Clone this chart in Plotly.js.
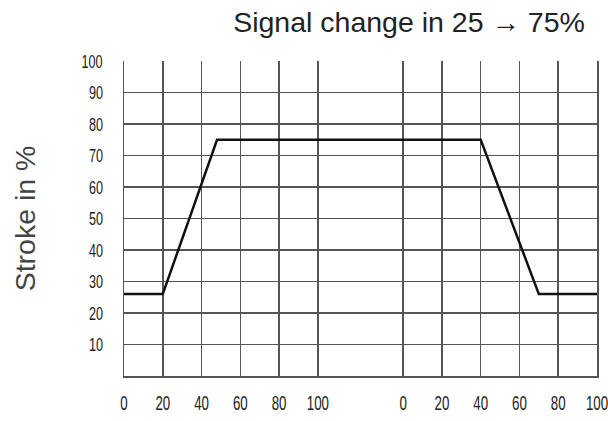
<!DOCTYPE html>
<html>
<head>
<meta charset="utf-8">
<script src="https://cdn.plot.ly/plotly-3.0.1.min.js"></script>
<style>html,body{margin:0;padding:0;background:#fff;}#chart{width:608px;height:421px;}</style>
</head>
<body>
<div id="chart"></div>
<script>
// Data
const tickLabels = [0, 20, 40, 60, 80, 100];
const yTicks = [10, 20, 30, 40, 50, 60, 70, 80, 90, 100];
const riseTime = [0, 20, 48, 100];      // first panel (time axis 0..100)
const riseStroke = [26, 26, 75, 75];
const fallTime = [0, 40, 70, 100];      // second panel (time axis 0..100)
const fallStroke = [75, 75, 26, 26];

const OFFSET = 144; // position of the second time scale on the shared axis

const xs = riseTime.concat(fallTime.map(t => t + OFFSET));
const ys = riseStroke.concat(fallStroke);
const tickvals = tickLabels.concat(tickLabels.map(t => t + OFFSET));
const ticktext = tickLabels.concat(tickLabels).map(String);

const xTickFont = {family: 'Liberation Sans, Arial, sans-serif', size: 14, color: '#222'};
const yTickFont = {family: 'Liberation Sans, Arial, sans-serif', size: 14, color: '#222'};

Plotly.newPlot('chart', [{
  x: xs, y: ys, mode: 'lines', type: 'scatter',
  line: {color: '#111', width: 2.5}, hoverinfo: 'skip', showlegend: false
}], {
  width: 608, height: 421,
  margin: {l: 124, r: 11, t: 61, b: 45},
  paper_bgcolor: '#fff', plot_bgcolor: '#fff',
  title: {text: 'Signal change in 25 \u2192 75%', font: {family: 'Liberation Sans, Arial, sans-serif', size: 28.5, color: '#222'},
          x: 0.962, xanchor: 'right', xref: 'container', y: 0.948, yanchor: 'middle', yref: 'container'},
  xaxis: {range: [0, 100 + OFFSET], tickvals: tickvals, ticktext: ticktext, showgrid: true,
          gridcolor: '#555', gridwidth: 1.5, zeroline: false, showline: true, linecolor: '#555', linewidth: 1.5,
          ticks: '', tickfont: xTickFont, ticklabelstandoff: 13, ticklabeloverflow: 'allow', fixedrange: true},
  yaxis: {range: [0, 100], tickvals: yTicks, showgrid: true, gridcolor: '#555', gridwidth: 1.5,
          zeroline: false, showline: true, mirror: true, linecolor: '#555', linewidth: 1.5,
          ticks: '', tickfont: yTickFont, ticklabelstandoff: 16, ticklabeloverflow: 'allow',
          title: {text: 'Stroke in %', font: {family: 'Liberation Sans, Arial, sans-serif', size: 28.5, color: '#444'}, standoff: 36},
          fixedrange: true}
}, {staticPlot: true}).then(function (gd) {
  // Stretch tick labels vertically to mimic the condensed, tall digits of the original
  function stretch(sel, sx, sy) {
    gd.querySelectorAll(sel).forEach(function (t) {
      const b = t.getBBox();
      const cx = b.x + b.width / 2, cy = b.y + b.height / 2;
      const orig = t.getAttribute('transform') || '';
      t.setAttribute('transform', orig + ' translate(' + cx + ',' + cy + ') scale(' + sx + ',' + sy + ') translate(' + (-cx) + ',' + (-cy) + ')');
    });
  }
  stretch('.xtick text', 0.95, 1.45);
  stretch('.ytick text', 0.9, 1.35);
});
</script>
</body>
</html>
